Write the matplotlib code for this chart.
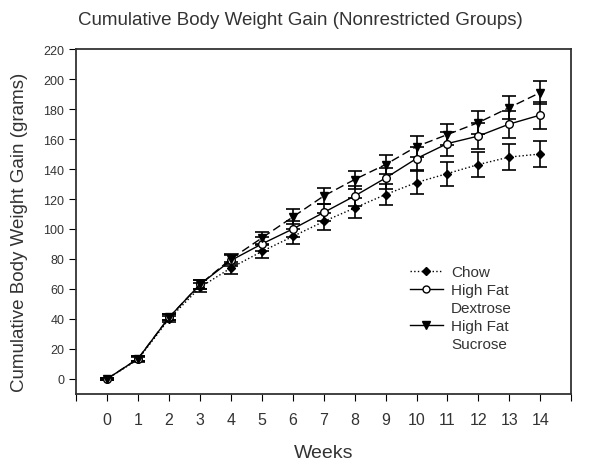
import numpy as np
import matplotlib
matplotlib.use('Agg')
import matplotlib.pyplot as plt
from matplotlib.lines import Line2D

plt.rcParams['font.family'] = ['Liberation Sans', 'DejaVu Sans']

weeks = list(range(15))
chow = [0, 13, 40, 61, 74, 85, 95, 105, 114, 123, 131, 137, 143, 148, 150]
chow_err = [0.5, 1.5, 2, 3, 4, 4.5, 5, 5.5, 6.5, 7, 7.5, 8, 8.5, 8.5, 8.5]
hfd = [0, 13.5, 41, 63, 79, 90, 100, 111, 122, 134, 147, 157, 162, 170, 176]
hfd_err = [0.5, 1.5, 2, 3, 3.5, 4.5, 5.5, 6, 6.5, 7, 7.5, 8, 8.5, 9, 9]
hfs = [0, 13.5, 41, 63, 80, 94, 108, 122, 133, 143, 155, 163, 171, 181, 191]
hfs_err = [0.5, 1.5, 2, 3, 3.5, 4, 5, 5.5, 6, 6.5, 7, 7, 7.5, 7.5, 7.5]

fig = plt.figure(figsize=(6, 4.64), dpi=100)
ax = fig.add_axes([0.127, 0.149, 0.825, 0.743])

kw = dict(color='black', ecolor='black', capsize=5, elinewidth=1.2, capthick=1.2,
          markersize=5.5, linewidth=1)
dash = (0, (6, 3))
ax.errorbar(weeks, chow, yerr=chow_err, fmt='D', linestyle=':', mfc='black',
            **dict(kw, markersize=4.5))
ax.errorbar(weeks, hfd, yerr=hfd_err, fmt='o', linestyle='-', mfc='white', **kw)
ax.errorbar(weeks, hfs, yerr=hfs_err, fmt='v', linestyle=dash, mfc='black', **kw)

ax.set_xlim(-1, 15)
ax.set_ylim(-10, 220)
ax.set_xticks(range(-1, 16))
ax.set_xticklabels([''] + [str(w) for w in weeks] + [''], fontsize=11.5, color='#333333')
ax.set_yticks(range(0, 221, 20))
ax.tick_params(axis='y', labelsize=9, direction='out', length=5, labelcolor='#333333')
ax.tick_params(axis='x', direction='out', length=5, pad=8)
for s in ax.spines.values():
    s.set_linewidth(1.3)
    s.set_color('#333333')

ax.set_xlabel('Weeks', fontsize=14, labelpad=12, color='#333333')
ax.set_ylabel('Cumulative Body Weight Gain (grams)', fontsize=13.5, labelpad=7, color='#333333')
ax.yaxis.set_label_coords(-0.097, 0.47)
fig.suptitle('Cumulative Body Weight Gain (Nonrestricted Groups)', fontsize=13.5,
             y=0.975, color='#333333')

blank = Line2D([], [], linestyle='none')
handles = [
    Line2D([], [], color='black', linestyle=':', marker='D', markersize=4.5, lw=1),
    Line2D([], [], color='black', linestyle='-', marker='o', mfc='white', markersize=5, lw=1),
    blank,
    Line2D([], [], color='black', linestyle='-', marker='v', markersize=6, lw=1),
    blank,
]
labels = ['Chow', 'High Fat', 'Dextrose', 'High Fat', 'Sucrose']
ax.legend(handles, labels, loc='upper left', bbox_to_anchor=(0.652, 0.405), frameon=False,
          fontsize=11, handlelength=2.2, labelspacing=0.26, borderpad=0.2,
          handletextpad=0.5, labelcolor='#333333')

fig.savefig('out.png', dpi=100)
